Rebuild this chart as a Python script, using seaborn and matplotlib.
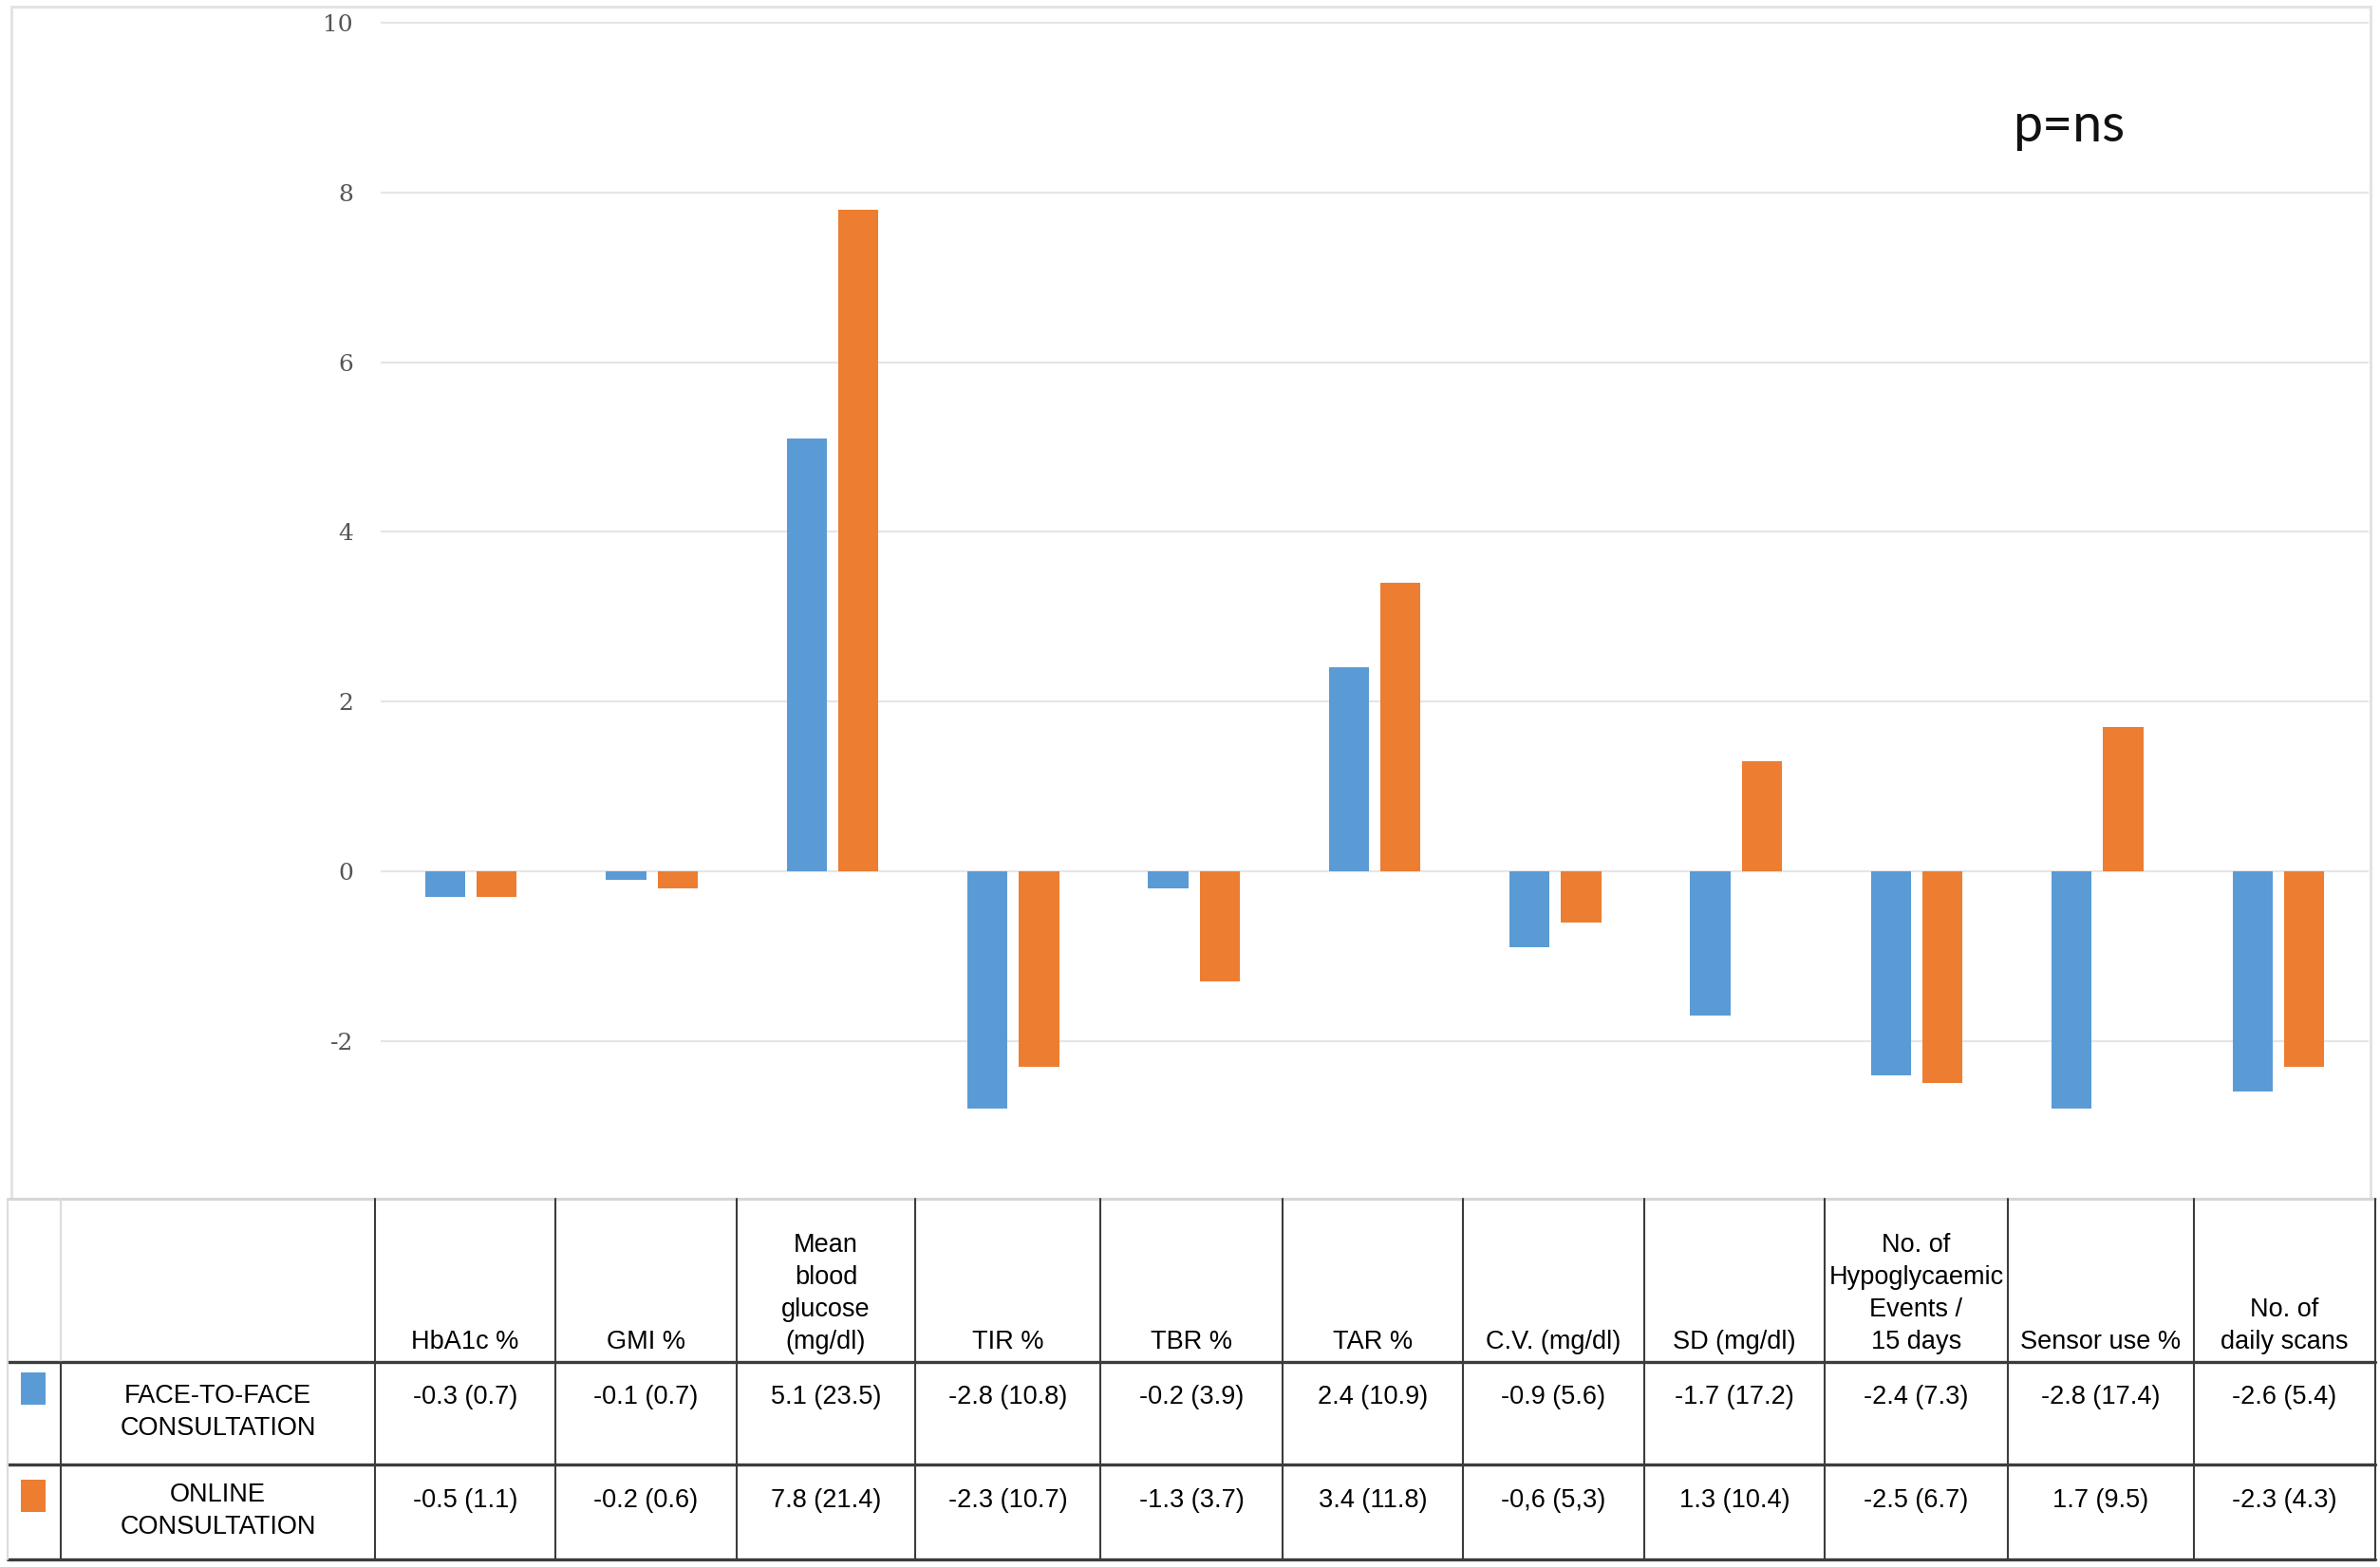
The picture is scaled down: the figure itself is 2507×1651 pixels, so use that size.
import matplotlib
matplotlib.use("Agg")
import matplotlib.pyplot as plt
from matplotlib.patches import Rectangle
import seaborn as sns
import pandas as pd

# ---------------- data ----------------
metrics = ["HbA1c %", "GMI %", "Mean blood glucose (mg/dl)", "TIR %", "TBR %", "TAR %",
           "C.V. (mg/dl)", "SD (mg/dl)", "No. of Hypoglycaemic Events / 15 days",
           "Sensor use %", "No. of daily scans"]
header_lines = [["HbA1c %"], ["GMI %"], ["Mean", "blood", "glucose", "(mg/dl)"], ["TIR %"],
                ["TBR %"], ["TAR %"], ["C.V. (mg/dl)"], ["SD (mg/dl)"],
                ["No. of", "Hypoglycaemic", "Events /", "15 days"], ["Sensor use %"],
                ["No. of", "daily scans"]]
groups = ["FACE-TO-FACE CONSULTATION", "ONLINE CONSULTATION"]
group_lines = [["FACE-TO-FACE", "CONSULTATION"], ["ONLINE", "CONSULTATION"]]
face_values = [-0.3, -0.1, 5.1, -2.8, -0.2, 2.4, -0.9, -1.7, -2.4, -2.8, -2.6]
online_values = [-0.3, -0.2, 7.8, -2.3, -1.3, 3.4, -0.6, 1.3, -2.5, 1.7, -2.3]
face_text = ["-0.3 (0.7)", "-0.1 (0.7)", "5.1 (23.5)", "-2.8 (10.8)", "-0.2 (3.9)", "2.4 (10.9)",
             "-0.9 (5.6)", "-1.7 (17.2)", "-2.4 (7.3)", "-2.8 (17.4)", "-2.6 (5.4)"]
online_text = ["-0.5 (1.1)", "-0.2 (0.6)", "7.8 (21.4)", "-2.3 (10.7)", "-1.3 (3.7)", "3.4 (11.8)",
               "-0,6 (5,3)", "1.3 (10.4)", "-2.5 (6.7)", "1.7 (9.5)", "-2.3 (4.3)"]
y_ticks = [-2, 0, 2, 4, 6, 8, 10]
y_tick_labels = ["-2", "0", "2", "4", "6", "8", "10"]
annotation = "p=ns"

colors = ["#5B9BD5", "#ED7D31"]

df = pd.DataFrame({
    "metric": metrics * 2,
    "group": [groups[0]] * len(metrics) + [groups[1]] * len(metrics),
    "value": face_values + online_values,
})

# ---------------- figure ----------------
sns.set_style("white")
W, H = 2507, 1651
fig = plt.figure(figsize=(W / 100, H / 100), dpi=100)
fig.patch.set_facecolor("white")

ax = fig.add_axes([401 / W, 0.23822, (2495 - 401) / W, 0.75809])
sns.barplot(data=df, x="metric", y="value", hue="group", order=metrics, hue_order=groups,
            palette=colors, width=0.57, gap=0.22, saturation=1, legend=False, ax=ax,
            edgecolor="none", linewidth=0)
ax.set_ylim(-3.8, 10.2)
ax.set_xlim(-0.5, len(metrics) - 0.5)
ax.set_yticks(y_ticks)
ax.set_yticklabels(y_tick_labels, fontfamily="DejaVu Serif", fontsize=18, color="#555555")
ax.set_xticks([])
ax.set_xlabel("")
ax.set_ylabel("")
ax.tick_params(axis="y", length=0, pad=21)
ax.yaxis.grid(True, color="#e6e6e6", linewidth=1.6)
ax.set_axisbelow(True)
for s in ax.spines.values():
    s.set_visible(False)

# ---------------- overlay for table ----------------
ov = fig.add_axes([0, 0, 1, 1], zorder=5)
ov.set_xlim(0, W)
ov.set_ylim(H, 0)
ov.axis("off")
ov.patch.set_alpha(0)

# chart border
light = "#e3e3e3"
ov.plot([12, 2497], [7, 7], color=light, lw=2.2)
ov.plot([12, 12], [7, 1263], color=light, lw=2.2)
ov.plot([2497, 2497], [7, 1263], color=light, lw=2.2)

ov.text(2120, 149, annotation, fontfamily="Lato", fontsize=40, ha="left", va="baseline",
        color="#111111")

# table grid
cols = [64, 395, 585, 776, 964, 1159, 1351, 1541, 1732, 1922, 2115, 2311, 2502]
top, hdr, row, bot = 1263, 1435, 1543, 1643
dark = "#3c3c3c"
ov.plot([8, 2502], [top, top], color="#d6d6d6", lw=2.2)
for yy in (hdr, row, bot):
    ov.plot([8, 2502], [yy, yy], color=dark, lw=2.4)
ov.plot([8, 8], [top, bot], color="#dcdcdc", lw=1.5)
ov.plot([64, 64], [top, hdr], color="#dcdcdc", lw=1.5)
ov.plot([64, 64], [hdr, bot], color=dark, lw=1.5)
for x in cols[1:]:
    ov.plot([x, x], [top, bot], color=dark, lw=1.5)

fkw = dict(fontfamily="Liberation Sans", fontsize=19.5, color="#000000", ha="center",
           va="baseline")
line_gap = 34
# header
for i, lines in enumerate(header_lines):
    cx = (cols[i + 1] + cols[i + 2]) / 2
    n = len(lines)
    for j, ln in enumerate(lines):
        ov.text(cx, 1421 - (n - 1 - j) * line_gap, ln, **fkw)

# row labels and legend squares
row_base = [1478, 1582]
val_base = [1479, 1588]
sq_top = [1446, 1559]
for r in range(2):
    ov.add_patch(Rectangle((22, sq_top[r]), 26, 34, facecolor=colors[r], edgecolor="none"))
    for j, ln in enumerate(group_lines[r]):
        ov.text((cols[0] + cols[1]) / 2, row_base[r] + j * line_gap, ln, **fkw)
    texts = face_text if r == 0 else online_text
    for i, t in enumerate(texts):
        cx = (cols[i + 1] + cols[i + 2]) / 2
        ov.text(cx, val_base[r], t, **fkw)

fig.savefig("out.png", dpi=100, facecolor="white")
